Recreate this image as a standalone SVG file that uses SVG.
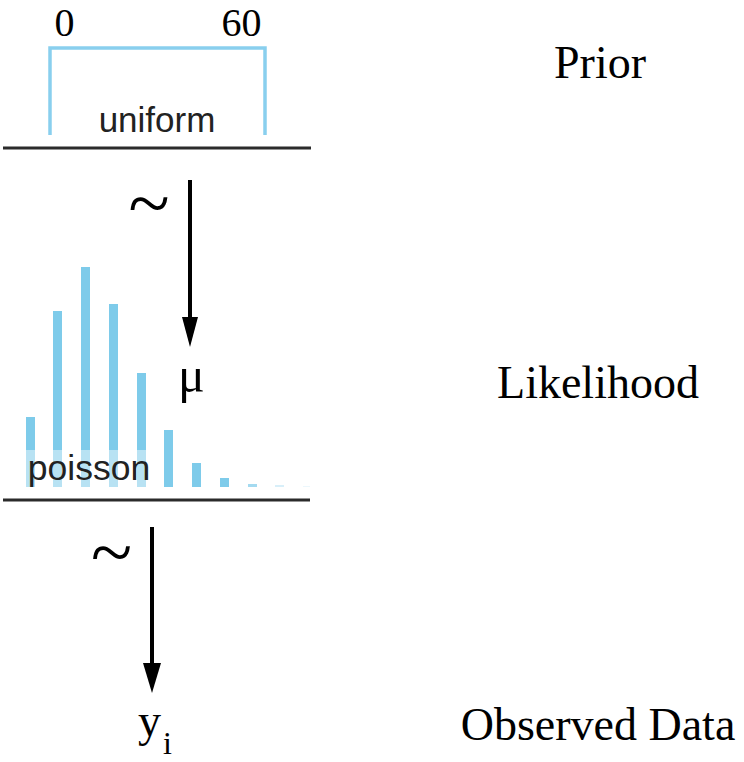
<svg xmlns="http://www.w3.org/2000/svg" width="744" height="762" viewBox="0 0 744 762">
<style>
.serif{font-family:"Liberation Serif","Times New Roman",serif;fill:#000}
.lbl{font-size:46px}
.sans{font-family:"Liberation Sans",Arial,sans-serif;fill:#222}
.bar{fill:#7ecbea}
.base{stroke:#2b2b2b;stroke-width:3;fill:none}
.conn{stroke:#000;stroke-width:4;fill:none}
</style>
<rect width="744" height="762" fill="#fff"/>
<g id="prior">
  <text class="serif" x="64.5" y="36" font-size="40" text-anchor="middle">0</text>
  <text class="serif" x="241.5" y="36" font-size="40" text-anchor="middle">60</text>
  <path d="M50,135 V48 H265 V135" fill="none" stroke="#89cfee" stroke-width="3.5"/>
  <text class="sans" x="157" y="132" font-size="35" text-anchor="middle">uniform</text>
  <line class="base" x1="3" y1="148" x2="311" y2="148"/>
  <text class="serif lbl" x="600" y="78" text-anchor="middle">Prior</text>
</g>
<g id="likelihood">
  <rect class="bar" x="26" y="417" width="9" height="70"/>
  <rect class="bar" x="53" y="311" width="9" height="176"/>
  <rect class="bar" x="81" y="267" width="9" height="220"/>
  <rect class="bar" x="109" y="304" width="9" height="183"/>
  <rect class="bar" x="137" y="373" width="9" height="114"/>
  <rect class="bar" x="164" y="430" width="9" height="57"/>
  <rect class="bar" x="192" y="463" width="9" height="24"/>
  <rect class="bar" x="220" y="478" width="9" height="9"/>
  <rect class="bar" x="248" y="484" width="9" height="3" opacity="0.7"/>
  <rect class="bar" x="275" y="485" width="9" height="2" opacity="0.3"/>
  <rect class="bar" x="303" y="486" width="7" height="1" opacity="0.15"/>
  <rect x="22" y="450" width="128" height="37" fill="#fff" opacity="0.45"/>
  <text class="sans" x="89" y="480" font-size="35.5" text-anchor="middle">poisson</text>
  <line class="base" x1="3" y1="500" x2="310" y2="500"/>
  <text class="serif" x="191.5" y="392" font-size="50" text-anchor="middle">μ</text>
  <text class="serif lbl" x="598" y="398" text-anchor="middle">Likelihood</text>
</g>
<g id="observed">
  <text class="serif" x="138" y="736" font-size="46">y</text>
  <text class="serif" x="163" y="754" font-size="32">i</text>
  <text class="serif lbl" x="598" y="740" text-anchor="middle">Observed Data</text>
</g>
<g id="connectors">
  <line class="conn" x1="190" y1="180" x2="190" y2="320"/>
  <polygon points="182,317 198,317 190,347" fill="#000"/>
  <text class="serif" x="149" y="229" font-size="76" text-anchor="middle">~</text>
  <line class="conn" x1="152" y1="527" x2="152" y2="666"/>
  <polygon points="143,663 161,663 152,693" fill="#000"/>
  <text class="serif" x="111.5" y="578" font-size="76" text-anchor="middle">~</text>
</g>
</svg>
